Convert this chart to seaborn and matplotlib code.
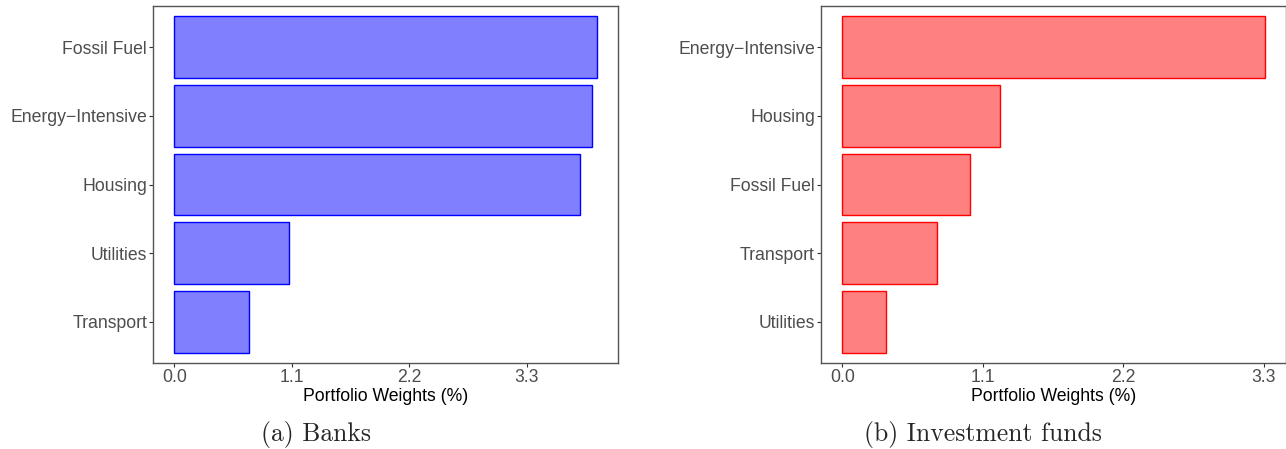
import matplotlib
matplotlib.use("Agg")
import matplotlib.pyplot as plt
import seaborn as sns
import pandas as pd
from matplotlib.ticker import FormatStrFormatter

# Portfolio weights (%) by sector
bank_sectors = ["Fossil Fuel", "Energy\u2212Intensive", "Housing", "Utilities", "Transport"]
bank_weights = [3.96, 3.91, 3.80, 1.07, 0.70]

fund_sectors = ["Energy\u2212Intensive", "Housing", "Fossil Fuel", "Transport", "Utilities"]
fund_weights = [3.31, 1.23, 1.00, 0.74, 0.34]

x_ticks = [0.0, 1.1, 2.2, 3.3]
x_label = "Portfolio Weights (%)"
captions = ["(a) Banks", "(b) Investment funds"]

sns.set_style("white")
plt.rcParams["font.family"] = ["Liberation Sans", "DejaVu Sans"]

fig = plt.figure(figsize=(12.86, 4.49), dpi=100)
ax_bank = fig.add_axes([0.1192, 0.1915, 0.3614, 0.7951])
ax_fund = fig.add_axes([0.6386, 0.1915, 0.3617, 0.7951])

panels = [
    (ax_bank, bank_sectors, bank_weights, "#8080FF", "#0000FF"),
    (ax_fund, fund_sectors, fund_weights, "#FF8080", "#FF0000"),
]

for ax, sectors, weights, fill, edge in panels:
    df = pd.DataFrame({"sector": sectors, "weight": weights})
    sns.barplot(data=df, x="weight", y="sector", order=sectors, orient="h",
                color=fill, edgecolor=edge, linewidth=1.0, saturation=1,
                width=0.9, ax=ax)
    top = max(weights)
    ax.set_xlim(-0.05 * top, 1.05 * top)
    ax.set_ylim(len(sectors) - 0.4, -0.6)
    ax.set_xticks(x_ticks)
    ax.xaxis.set_major_formatter(FormatStrFormatter("%.1f"))
    ax.set_ylabel("")
    ax.set_xlabel(x_label, fontsize=12.7, color="black", labelpad=1)
    ax.tick_params(axis="both", which="major", length=3, width=0.8,
                   color="#333333", labelcolor="#4D4D4D", labelsize=12.7,
                   pad=1.5, bottom=True, left=True)
    for side in ["left", "right", "top", "bottom"]:
        ax.spines[side].set_visible(True)
        ax.spines[side].set_color("#555555")
        ax.spines[side].set_linewidth(1.0)
    ax.grid(False)

fig.text(316 / 1286, 1 - 435 / 449, captions[0], ha="center", va="center",
         fontsize=18.5, family="cmr10")
fig.text(983 / 1286, 1 - 435 / 449, captions[1], ha="center", va="center",
         fontsize=18.5, family="cmr10")

fig.savefig("out.png", dpi=100)
